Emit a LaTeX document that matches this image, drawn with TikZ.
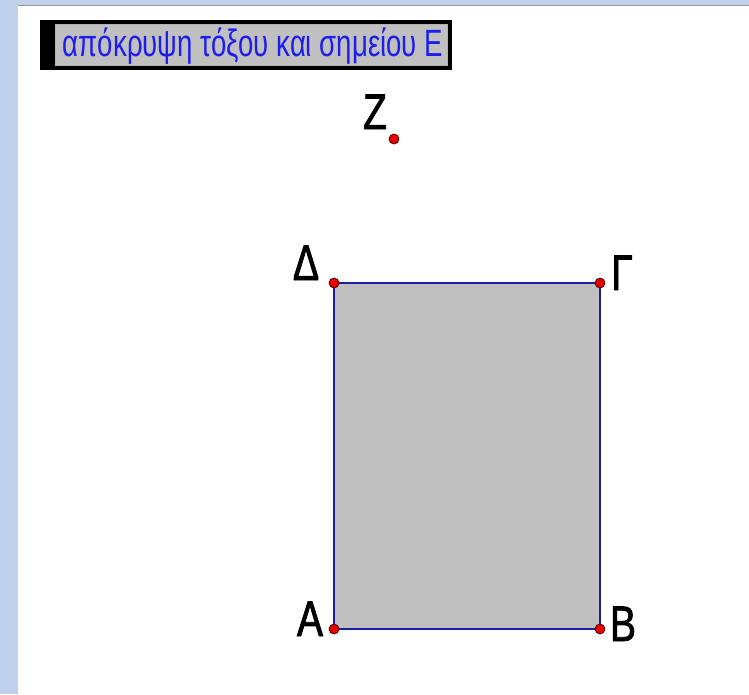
\documentclass[tikz,border=0pt]{standalone}
\usepackage{fontspec}
\usepackage{graphicx}
\newfontfamily\lblfont[FakeStretch=0.78,FakeBold=1.6]{Liberation Sans}
\newfontfamily\btnfont{Liberation Sans}
\definecolor{frameblue}{RGB}{190,208,236}
\definecolor{edgeblue}{RGB}{30,30,155}
\definecolor{ptred}{RGB}{230,0,0}
\definecolor{btngray}{RGB}{192,192,192}
\definecolor{btntext}{RGB}{30,30,235}
\tikzset{
  lbl/.style={inner sep=0pt, anchor=base, text=black, font=\lblfont\fontsize{50}{50}\selectfont},
  pt/.style={circle, fill=ptred, draw=black!70!red, line width=0.8pt, minimum size=10pt, inner sep=0pt},
}
\begin{document}
\begin{tikzpicture}[x=1pt,y=-1pt]
\useasboundingbox (0,0) rectangle (749,694);
% window background
\fill[white] (0,0) rectangle (749,694);
\fill[frameblue] (0,0) rectangle (749,5);
\fill[frameblue] (0,0) rectangle (18,694);
\draw[gray!80, line width=1pt] (18,5) -- (749,5);
% button
\fill[black] (40,20) rectangle (452,70);
\fill[btngray, draw=gray!60, line width=0.6pt] (55,24) rectangle (447,65);
\node[inner sep=0pt, anchor=base, text=btntext] (btn) at (253,56)
  {\resizebox{380pt}{\height}{\btnfont\fontsize{38}{38}\selectfont απόκρυψη τόξου και σημείου Ε}};
% points
\coordinate (A) at (334,629);
\coordinate (B) at (600,629);
\coordinate (G) at (600,283);
\coordinate (D) at (334,283);
\coordinate (Z) at (394,139);
% rectangle
\draw[fill=btngray, draw=edgeblue, line width=2.6pt] (A) -- (B) -- (G) -- (D) -- cycle;
\node[pt] (pA) at (A) {};
\node[pt] (pB) at (B) {};
\node[pt] (pG) at (G) {};
\node[pt] (pD) at (D) {};
\node[pt] (pZ) at (Z) {};
% labels
\node[lbl] (lA) at (310,636) {A};
\node[lbl] (lB) at (623,641) {B};
\node[lbl] (lD) at (306,280) {Δ};
\node[lbl, anchor=base west] (lG) at (611,290) {Γ};
\node[lbl] (lZ) at (375,129) {Z};
\end{tikzpicture}
\end{document}
